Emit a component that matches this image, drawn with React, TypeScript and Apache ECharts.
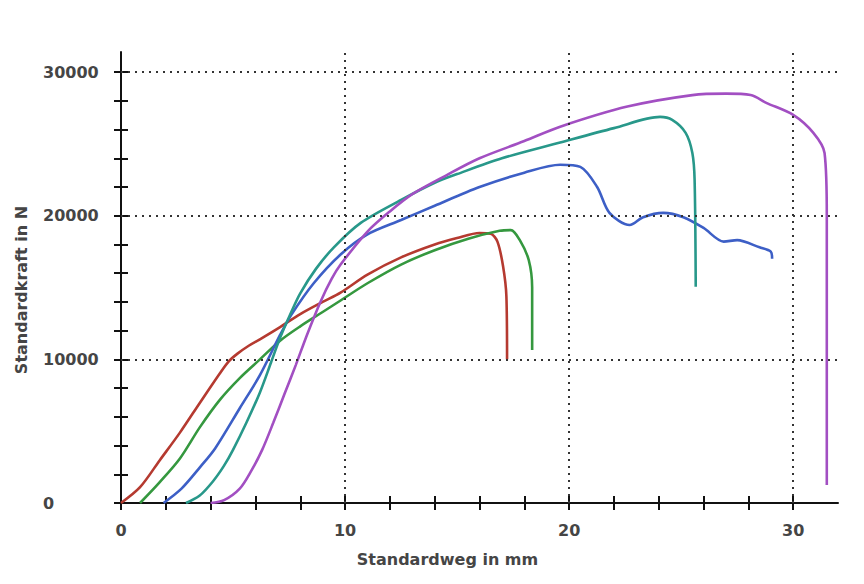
import React, { useEffect, useRef } from "react";
import * as echarts from "echarts";

// Axis tick / label values
const xMinorTicks = [0, 2, 4, 6, 8, 10, 12, 14, 16, 18, 20, 22, 24, 26, 28, 30];
const xLabels = [0, 10, 20, 30];
const yMinorTicks = [0, 2000, 4000, 6000, 8000, 10000, 12000, 14000, 16000, 18000, 20000, 22000, 24000, 26000, 28000, 30000];
const yLabels = [0, 10000, 20000, 30000];
const xGridLines = [10, 20, 30];
const yGridLines = [10000, 20000, 30000];
const X_MAX = 32;
const Y_MAX = 31400;
const X_TICK_STEP = 2;
const Y_TICK_STEP = 2000;
const X_TICK_LAST = 30;
const Y_TICK_LAST = 30000;

// Curves: [Standardweg mm, Standardkraft N]
const redCurve = [
  [0, 0], [0.85, 1100], [1.74, 3000], [2.63, 4900], [3.53, 7000], [4.4, 9000], [4.8, 9850],
  [5.2, 10400], [5.7, 10950], [6.2, 11400], [7.1, 12250], [8, 13150], [9, 14000], [9.8, 14650], [11, 15900],
  [12.5, 17100], [14, 18000], [15, 18450], [16, 18800], [16.5, 18750], [16.8, 18200],
  [17.05, 16500], [17.2, 14400], [17.23, 10000],
];
const greenCurve = [
  [0.85, 0], [1.7, 1400], [2.63, 3100], [3.53, 5300], [4.42, 7200], [5.3, 8700], [6.2, 10000],
  [7.1, 11300], [8, 12300], [9, 13300], [9.8, 14100], [11, 15300], [12.5, 16600], [14, 17600],
  [15.5, 18400], [16.9, 18950], [17.4, 19000], [17.8, 18300], [18.2, 16900], [18.35, 15000],
  [18.35, 10650],
];
const blueCurve = [
  [1.9, 0], [2.7, 1000], [3.53, 2500], [4.2, 3800], [5.3, 6600], [6.2, 8900], [7.1, 11700],
  [7.6, 13100], [8.6, 15300], [9.8, 17300], [11, 18700], [12.5, 19700], [14, 20700], [16, 22000],
  [18, 23000], [19.6, 23550], [20.5, 23400], [21.25, 22000], [21.8, 20200], [22.7, 19350],
  [23.3, 19900], [24.2, 20200], [25.1, 19900], [26, 19150], [26.9, 18200], [27.5, 18300],
  [28.5, 17800], [29, 17500], [29.06, 17000],
];
const tealCurve = [
  [2.9, 0], [3.5, 500], [4.1, 1500], [4.6, 2600], [5, 3700], [5.6, 5600], [6.2, 7700],
  [6.7, 9800], [7.1, 11500], [7.6, 13300], [8, 14600], [8.7, 16300], [9.5, 17800], [10.7, 19500],
  [12.5, 21100], [14, 22300], [15, 22900], [17, 24000], [19.6, 25100], [22, 26100],
  [24.06, 26880], [24.6, 26670], [25.2, 25770], [25.5, 24370], [25.6, 22500], [25.65, 15050],
];
const purpleCurve = [
  [4, 0], [4.6, 200], [5.3, 1000], [5.8, 2200], [6.3, 3700], [6.8, 5600], [7.3, 7600],
  [7.8, 9600], [8.3, 11700], [8.9, 14000], [9.4, 15600], [9.8, 16600], [11, 18900],
  [12, 20300], [13, 21500], [14.5, 22800], [16, 24000], [18, 25200], [19.6, 26200],
  [22.6, 27600], [25.5, 28400], [27, 28500], [28.1, 28400], [28.8, 27860], [30, 27020],
  [30.9, 25770], [31.4, 24370], [31.5, 20000], [31.5, 1250],
];

const curves = [
  { name: "Probe 1", data: redCurve, color: "#b53a30" },
  { name: "Probe 2", data: greenCurve, color: "#35983f" },
  { name: "Probe 3", data: blueCurve, color: "#3d5fc6" },
  { name: "Probe 4", data: tealCurve, color: "#28988a" },
  { name: "Probe 5", data: purpleCurve, color: "#a24fc2" },
];

const FONT = "DejaVu Sans";

export default function App() {
  const ref = useRef<HTMLDivElement>(null);
  useEffect(() => {
    if (!ref.current) return;
    const chart = echarts.init(ref.current, undefined, { renderer: "svg" });
    const axisLabelStyle = { fontFamily: FONT, fontSize: 16, fontWeight: "bold", color: "#454545", formatter: (v: number) => String(v) };
    const tickStyle = { color: "#111", width: 2 };
    const G = { left: 121, right: 26, top: 52, bottom: 81 };
    const plotW = 864 - G.left - G.right;
    const plotH = 584 - G.top - G.bottom;
    // second grid spanning exactly 0..X_TICK_LAST / 0..Y_TICK_LAST, used for the inner half of the cross ticks
    const G2 = {
      left: G.left,
      bottom: G.bottom,
      right: G.right + plotW * (1 - X_TICK_LAST / X_MAX),
      top: G.top + plotH * (1 - Y_TICK_LAST / Y_MAX),
    };
    chart.setOption({
      animation: false,
      backgroundColor: "#ffffff",
      grid: [G, G2],
      xAxis: [
        {
          type: "value", gridIndex: 0, min: 0, max: X_MAX, position: "bottom",
          name: "Standardweg in mm", nameLocation: "middle", nameGap: 48,
          nameTextStyle: { fontFamily: FONT, fontSize: 16, fontWeight: "bold", color: "#454545", padding: [0, 64, 0, 0] },
          axisLine: { show: true, onZero: false, lineStyle: { color: "#111", width: 2 } },
          axisTick: { show: true, length: 7, lineStyle: tickStyle, customValues: xMinorTicks },
          axisLabel: { ...axisLabelStyle, margin: 19, customValues: xLabels },
          splitLine: { show: false },
        },
        {
          type: "value", gridIndex: 1, min: 0, max: X_TICK_LAST, interval: X_TICK_STEP, position: "bottom",
          axisLine: { show: true, onZero: false, lineStyle: { color: "#111", width: 2 } },
          axisTick: { show: true, inside: true, length: 7, lineStyle: tickStyle },
          axisLabel: { show: true, formatter: () => "" },
          splitLine: { show: false },
        },
      ],
      yAxis: [
        {
          type: "value", gridIndex: 0, min: 0, max: Y_MAX, position: "left",
          name: "Standardkraft in N", nameLocation: "middle", nameGap: 92,
          nameTextStyle: { fontFamily: FONT, fontSize: 16, fontWeight: "bold", color: "#454545", padding: [0, 25, 0, 0] },
          axisLine: { show: true, onZero: false, lineStyle: { color: "#111", width: 2 } },
          axisTick: { show: true, length: 7, lineStyle: tickStyle, customValues: yMinorTicks },
          axisLabel: { ...axisLabelStyle, margin: 78, align: "left", customValues: yLabels },
          splitLine: { show: false },
        },
        {
          type: "value", gridIndex: 1, min: 0, max: Y_TICK_LAST, interval: Y_TICK_STEP, position: "left",
          axisLine: { show: true, onZero: false, lineStyle: { color: "#111", width: 2 } },
          axisTick: { show: true, inside: true, length: 7, lineStyle: tickStyle },
          axisLabel: { show: true, formatter: () => "" },
          splitLine: { show: false },
        },
      ],
      series: [
        {
          type: "line", name: "grid", data: [], z: 1, silent: true,
          xAxisIndex: 0, yAxisIndex: 0,
          markLine: {
            silent: true, symbol: "none", label: { show: false },
            lineStyle: { color: "#333", width: 2, type: [2, 5] },
            data: [
              ...xGridLines.map((v) => ({ xAxis: v })),
              ...yGridLines.map((v) => ({ yAxis: v })),
            ],
          },
        },
        {
          type: "line", name: "ticks", data: redCurve, xAxisIndex: 1, yAxisIndex: 1, silent: true,
          showSymbol: false, symbol: "none", lineStyle: { opacity: 0, width: 0 }, z: 0,
        },
        ...curves.map((c) => ({
          type: "line", name: c.name, data: c.data, z: 3,
          xAxisIndex: 0, yAxisIndex: 0,
          showSymbol: false, symbol: "none", smooth: 0.3,
          lineStyle: { color: c.color, width: 2.6 },
          itemStyle: { color: c.color },
        })),
      ],
    });
    return () => chart.dispose();
  }, []);
  return <div ref={ref} style={{ position: "absolute", left: 0, top: 0, width: 864, height: 584 }} />;
}
